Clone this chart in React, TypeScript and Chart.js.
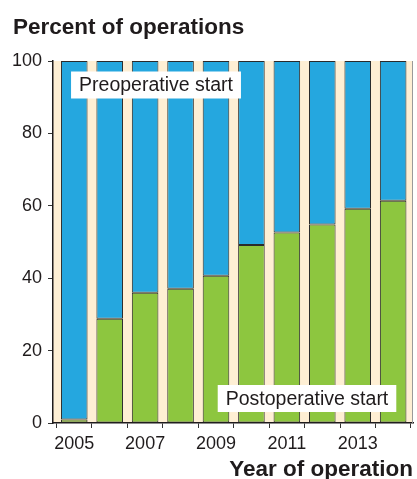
import React, { useEffect, useRef } from "react";
import { Chart, registerables } from "chart.js";

Chart.register(...registerables);

const years = [2005, 2006, 2007, 2008, 2009, 2010, 2011, 2012, 2013, 2014];
const postoperative = [1, 28.8, 36, 37.1, 40.7, 49.2, 52.6, 54.8, 59.2, 61.4];
const preoperative = [99, 71.2, 64, 62.9, 59.3, 50.8, 47.4, 45.2, 40.8, 38.6];
const yTicks = [0, 20, 40, 60, 80, 100];
const xTickLabels = ["2005", "2007", "2009", "2011", "2013"];

const TEXT = "#1F1B1C";
const BLUE = "#25A7DF";
const GREEN = "#8DC63F";
const CREAM = "#FEEFD4";
const FONT = "'Liberation Sans', Arial, Helvetica, sans-serif";

const decorPlugin = {
  id: "decor",
  beforeDraw(chart: any) {
    const { ctx, chartArea } = chart;
    ctx.save();
    ctx.fillStyle = CREAM;
    ctx.fillRect(chartArea.left, chartArea.top, chartArea.right - chartArea.left, chartArea.bottom - chartArea.top);
    ctx.restore();
  },
  afterDraw(chart: any) {
    const { ctx, chartArea } = chart;
    ctx.save();
    // right edge of plot frame
    ctx.strokeStyle = "#9a9a9a";
    ctx.lineWidth = 1;
    ctx.beginPath();
    ctx.moveTo(chartArea.right - 0.5, chartArea.top);
    ctx.lineTo(chartArea.right - 0.5, chartArea.bottom);
    ctx.stroke();

    // chart title
    ctx.fillStyle = TEXT;
    ctx.font = `bold 22.5px ${FONT}`;
    ctx.textBaseline = "alphabetic";
    ctx.textAlign = "left";
    ctx.fillText("Percent of operations", 13, 34);

    // series labels in white boxes
    const drawBox = (text: string, cx: number, cy: number) => {
      ctx.font = `19.5px ${FONT}`;
      const w = ctx.measureText(text).width;
      const bw = w + 16;
      const bh = 27;
      ctx.fillStyle = "#ffffff";
      ctx.fillRect(cx - bw / 2, cy - bh / 2, bw, bh);
      ctx.fillStyle = TEXT;
      ctx.textAlign = "center";
      ctx.textBaseline = "middle";
      ctx.fillText(text, cx, cy + 1);
    };
    drawBox("Preoperative start", chartArea.left + 103, chartArea.top + 24);
    drawBox("Postoperative start", chartArea.right - 106, chartArea.bottom - 24.5);
    ctx.restore();
  },
};

export default function App() {
  const canvasRef = useRef<HTMLCanvasElement | null>(null);

  useEffect(() => {
    document.body.style.margin = "0";
    const canvas = canvasRef.current;
    if (!canvas) return;
    const chart = new Chart(canvas, {
      type: "bar",
      data: {
        datasets: [
          {
            label: "Postoperative start",
            data: years.map((y, i) => ({ x: y, y: postoperative[i] })),
            backgroundColor: GREEN,
            borderColor: "#2b2b2b",
            borderWidth: 1,
            borderSkipped: false,
            categoryPercentage: 1,
            barPercentage: 0.75,
          },
          {
            label: "Preoperative start",
            data: years.map((y, i) => ({ x: y, y: preoperative[i] })),
            backgroundColor: BLUE,
            borderColor: "#2b2b2b",
            borderWidth: 1,
            borderSkipped: false,
            categoryPercentage: 1,
            barPercentage: 0.75,
          },
        ],
      },
      options: {
        animation: false,
        responsive: true,
        maintainAspectRatio: false,
        layout: { padding: { left: 0, right: 4, top: 61, bottom: 0 } },
        plugins: {
          legend: { display: false },
          tooltip: { enabled: false },
          title: { display: false },
        },
        scales: {
          x: {
            type: "linear",
            stacked: true,
            offset: false,
            min: 2004.4,
            max: 2014.56,
            afterFit: (scale: any) => {
              scale.height = 56;
            },
            ticks: {
              stepSize: 1,
              autoSkip: false,
              includeBounds: false,
              maxRotation: 0,
              padding: 5,
              color: TEXT,
              font: { family: FONT, size: 18 },
              callback: (v: any) => {
                const s = String(Math.round(Number(v)));
                return xTickLabels.includes(s) ? s : "";
              },
            },
            grid: {
              drawOnChartArea: false,
              drawTicks: true,
              tickLength: 5,
              color: "#333333",
              lineWidth: 1,
            },
            border: { display: true, color: TEXT, width: 1.5 },
            title: {
              display: true,
              text: "Year of operation",
              align: "end",
              color: TEXT,
              font: { family: FONT, size: 22.5, weight: "bold" },
              padding: { top: 0, bottom: -4 },
            },
          },
          y: {
            stacked: true,
            min: 0,
            max: 100,
            afterFit: (scale: any) => {
              scale.width = 53;
            },
            afterBuildTicks: (scale: any) => {
              scale.ticks = yTicks.map((v) => ({ value: v }));
            },
            ticks: {
              padding: 6,
              color: TEXT,
              font: { family: FONT, size: 18 },
            },
            grid: {
              drawOnChartArea: false,
              drawTicks: true,
              tickLength: 5,
              color: "#333333",
              lineWidth: 1,
            },
            border: { display: true, color: TEXT, width: 1.5 },
          },
        },
      },
      plugins: [decorPlugin],
    } as any);
    return () => chart.destroy();
  }, []);

  return (
    <div style={{ position: "relative", width: 417, height: 479 }}>
      <canvas ref={canvasRef} />
    </div>
  );
}
